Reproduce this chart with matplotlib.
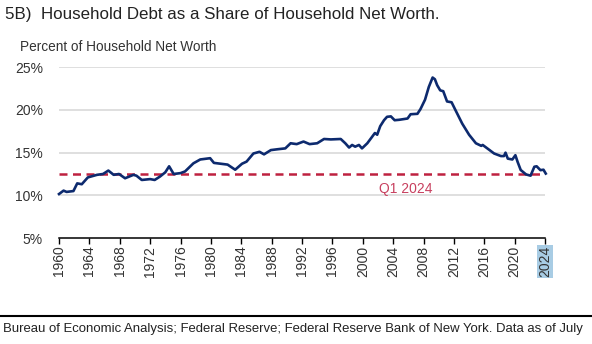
import numpy as np
import matplotlib.pyplot as plt

# Household debt as a share of household net worth (%)
years = [1960.0, 1960.6, 1961.0, 1961.9, 1962.4, 1963.0, 1963.8, 1965.0, 1965.8,
         1966.5, 1967.2, 1967.9, 1968.7, 1969.8, 1970.2, 1970.9, 1972.0, 1972.6,
         1973.3, 1974.0, 1974.5, 1975.1, 1976.0, 1976.6, 1977.7, 1978.6, 1979.9,
         1980.4, 1981.3, 1982.2, 1983.2, 1984.1, 1984.7, 1985.6, 1986.4, 1987.0,
         1987.9, 1988.8, 1989.8, 1990.5, 1991.3, 1992.2, 1993.0, 1994.0, 1994.9,
         1995.8, 1997.1, 1997.7, 1998.2, 1998.6, 1999.0, 1999.5, 1999.9, 2000.6,
         2001.1, 2001.6, 2001.9, 2002.3, 2002.8, 2003.2, 2003.7, 2004.2, 2004.8,
         2005.9, 2006.3, 2007.2, 2007.6, 2008.2, 2008.7, 2009.2, 2009.5, 2009.8,
         2010.2, 2010.6, 2011.1, 2011.7, 2012.2, 2013.1, 2014.0, 2014.9, 2015.6,
         2015.8, 2016.4, 2017.3, 2018.2, 2018.6, 2018.8, 2019.1, 2019.7, 2020.1,
         2020.4, 2020.8, 2021.5, 2022.1, 2022.6, 2022.9, 2023.4, 2023.8, 2024.1]
debt_share = [10.15, 10.55, 10.4, 10.5, 11.4, 11.3, 12.1, 12.4, 12.5,
              12.9, 12.4, 12.5, 12.0, 12.4, 12.3, 11.8, 11.9, 11.8,
              12.2, 12.7, 13.4, 12.5, 12.6, 12.8, 13.75, 14.2, 14.35,
              13.8, 13.7, 13.6, 13.0, 13.7, 13.95, 14.9, 15.1, 14.8,
              15.3, 15.4, 15.5, 16.1, 16.0, 16.3, 16.0, 16.1, 16.6,
              16.55, 16.6, 16.1, 15.6, 15.9, 15.7, 15.9, 15.5, 16.1,
              16.7, 17.3, 17.1, 18.1, 18.8, 19.2, 19.25, 18.8, 18.85,
              19.0, 19.5, 19.55, 20.1, 21.2, 22.7, 23.8, 23.6, 22.9,
              22.3, 22.2, 21.0, 20.9, 20.0, 18.4, 17.1, 16.1, 15.8,
              15.9, 15.5, 14.9, 14.6, 14.6, 15.0, 14.3, 14.2, 14.7,
              13.9, 12.97, 12.45, 12.3, 13.35, 13.4, 12.95, 13.0, 12.55]
q1_2024 = 12.5
x_ticks = list(range(1960, 2025, 4))
y_ticks = [5, 10, 15, 20, 25]

plt.rcParams['font.family'] = ['Liberation Sans', 'DejaVu Sans']

navy = '#0d2a6e'
red = '#be2140'

fig = plt.figure(figsize=(5.92, 3.44), dpi=100)
ax = fig.add_axes([59 / 592, 1 - 238 / 344, (545 - 59) / 592, (238 - 67.3) / 344])

for v in y_ticks[1:]:
    ax.axhline(v, color='#d6d6d6', lw=1.1, zorder=1)

ax.plot([1960, 2024], [q1_2024, q1_2024], color=red, lw=1.8, ls=(0, (3.2, 2.2)), zorder=2)
ax.plot(years, debt_share, color=navy, lw=1.9, zorder=3, clip_on=False)
ax.text(2005.6, 10.7, 'Q1 2024', color='#c8405f', fontsize=10, ha='center', va='center')

ax.set_xlim(1960, 2024)
ax.set_ylim(5, 25)
ax.set_xticks(x_ticks)
ax.set_xticklabels([str(t) for t in x_ticks], rotation=90, fontsize=10, color='#333333')
ax.set_yticks(y_ticks)
ax.set_yticklabels([f'{v}%' for v in y_ticks], fontsize=10, color='#333333')
ax.tick_params(axis='y', length=0, pad=11.5)
ax.tick_params(axis='x', length=4, width=1, direction='out', color='black', pad=1.5)
for s in ['top', 'right', 'left']:
    ax.spines[s].set_visible(False)
ax.spines['bottom'].set_color('black')
ax.spines['bottom'].set_linewidth(1.1)

# highlighted last tick label
ax.get_xticklabels()[-1].set_bbox(dict(facecolor='#a8cce4', edgecolor='none', pad=0.8))

renderer = fig.canvas.get_renderer()


def fit_text(x0, y0, s, width_px, size, **kw):
    # the reference uses a condensed face; shrink the size until the width matches
    t = fig.text(x0 / 592, 1 - y0 / 344, s, fontsize=size, va='center', ha='left', **kw)
    w = t.get_window_extent(renderer).width
    t.set_fontsize(size * width_px / w)
    return t


fit_text(5, 15, '5B)  Household Debt as a Share of Household Net Worth.', 435, 14, color='#222222')
fit_text(20, 47, 'Percent of Household Net Worth', 197, 10, color='#333333')
fig.add_artist(plt.Line2D([0, 1], [1 - 316 / 344, 1 - 316 / 344], color='black', lw=1.5))
fit_text(3, 329, 'Bureau of Economic Analysis; Federal Reserve; Federal Reserve Bank of New York. Data as of July',
         582, 10, color='#222222')

fig.savefig('out.png', dpi=100)
